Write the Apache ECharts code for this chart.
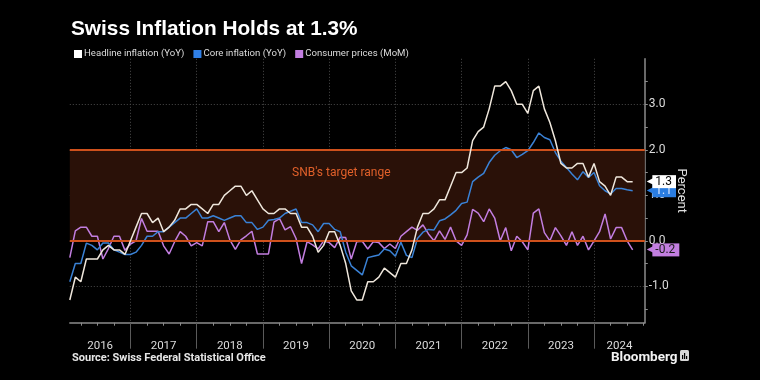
<!DOCTYPE html>
<html><head><meta charset="utf-8">
<script src="https://cdn.jsdelivr.net/npm/echarts@6/dist/echarts.min.js"></script>
<style>html,body{margin:0;background:#000}#c{width:760px;height:380px}</style>
</head><body><div id="c"></div>
<script>
// Month index 0 = Jan 2016 (plotted at month end)
const yearLabels = ['2016','2017','2018','2019','2020','2021','2022','2023','2024'];
const headline = [
  -1.3,-0.8,-0.9,-0.4,-0.4,-0.4,-0.2,-0.1,-0.2,-0.2,-0.3,0.0,
  0.3,0.6,0.6,0.4,0.5,0.2,0.3,0.45,0.7,0.7,0.8,0.8,
  0.7,0.6,0.8,0.8,1.0,1.1,1.2,1.2,1.0,1.1,0.9,0.7,
  0.6,0.6,0.7,0.7,0.6,0.6,0.3,0.3,0.1,-0.25,-0.1,0.2,
  0.2,-0.1,-0.5,-1.1,-1.3,-1.3,-0.9,-0.9,-0.8,-0.6,-0.7,-0.8,
  -0.5,-0.5,-0.2,0.3,0.6,0.6,0.7,0.9,0.9,1.2,1.5,1.5,
  1.6,2.2,2.4,2.5,2.9,3.4,3.4,3.5,3.3,3.0,3.0,2.8,
  3.3,3.4,2.9,2.6,2.2,1.7,1.6,1.6,1.7,1.7,1.4,1.7,
  1.3,1.2,1.0,1.4,1.4,1.3,1.3
];
const core = [
  -0.9,-0.5,-0.5,-0.05,-0.1,-0.2,-0.05,-0.05,-0.2,-0.25,-0.3,-0.3,
  -0.25,-0.1,0.1,0.1,0.2,0.2,0.3,0.4,0.5,0.5,0.6,0.7,
  0.5,0.5,0.55,0.5,0.45,0.5,0.55,0.55,0.4,0.4,0.25,0.3,
  0.45,0.47,0.5,0.6,0.65,0.7,0.4,0.4,0.35,0.2,0.38,0.38,
  0.25,0.2,-0.25,-0.55,-0.65,-0.75,-0.37,-0.34,-0.31,-0.18,-0.22,-0.34,
  -0.03,-0.32,-0.37,0.05,0.19,0.25,0.24,0.44,0.48,0.57,0.67,0.82,
  0.85,1.3,1.4,1.48,1.72,1.88,1.98,2.05,2.0,1.83,1.9,1.98,
  2.16,2.37,2.27,2.22,1.94,1.75,1.61,1.47,1.34,1.52,1.39,1.5,
  1.21,1.1,1.03,1.15,1.15,1.12,1.1
];
const mom = [
  -0.37,0.22,0.3,0.3,0.1,0.1,-0.4,-0.17,0.1,0.1,-0.21,-0.07,
  0.0,0.49,0.21,0.21,0.21,-0.11,-0.29,-0.02,0.2,0.1,-0.11,-0.04,
  -0.11,0.42,0.42,0.2,0.4,0.02,-0.19,0.02,0.11,0.21,-0.29,-0.29,
  -0.29,0.41,0.49,0.24,0.31,0.05,-0.5,-0.02,-0.09,-0.18,0.0,-0.04,
  -0.15,0.08,0.07,-0.4,-0.02,-0.01,-0.18,-0.02,-0.04,-0.17,-0.07,-0.17,
  0.1,0.2,0.3,0.23,0.35,0.15,0.0,0.22,0.03,0.3,0.0,-0.1,
  0.13,0.69,0.61,0.42,0.7,0.5,0.0,0.29,-0.22,0.1,-0.02,-0.2,
  0.61,0.7,0.18,0.0,0.29,0.11,-0.1,0.2,-0.1,0.1,-0.2,0.0,
  0.2,0.59,0.04,0.29,0.29,0.0,-0.2
];
const targetRange = [0, 2];
const yLabelValues = [-1, 0, 1, 2, 3];
const yTickValues = [-1.5, -1, -0.5, 0, 0.5, 1, 1.5, 2, 2.5, 3, 3.5];

const X_MAX = 104.2;
const Y_MIN = -1.8, Y_MAX = 4.0;
const toPts = arr => arr.map((v, i) => [i, v]);
const yearEnds = yearLabels.slice(0, -1).map((y, k) => k * 12 + 11);
const quarterEnds = [];
for (let i = 2; i <= X_MAX; i += 3) quarterEnds.push(i);
const labelPos = yearLabels.map((y, k) => {
  const a = k === 0 ? 0 : k * 12 - 1;
  const b = Math.min(k * 12 + 11, X_MAX);
  return (a + b) / 2;
});

const FONT = "'Roboto', 'Liberation Sans', sans-serif";
const C_HEAD = '#efe7dc', C_CORE = '#3a82d6', C_MOM = '#c27ee0';

function endLab(bg, fg, arrowColor) {
  return {
    show: true, distance: 14,
    formatter: p => '{a|\u25C0}{b|' + p.value[1].toFixed(1) + '}',
    rich: {
      a: { color: arrowColor, fontSize: 10, fontFamily: 'DejaVu Sans', padding: [0, -2, 0, 0] },
      b: { backgroundColor: bg, color: fg, fontSize: 12, fontFamily: FONT, padding: [1, 4, 0, 3], height: 12, lineHeight: 12 }
    }
  };
}

const chart = echarts.init(document.getElementById('c'), null, { renderer: 'canvas' });
chart.setOption({
  backgroundColor: '#000',
  animation: false,
  title: [
    { text: 'Swiss Inflation Holds at 1.3%', left: 71, top: 19, padding: 0,
      textStyle: { color: '#fff', fontWeight: 'bold', fontSize: 20.8, fontFamily: "'Liberation Sans', sans-serif" } },
    { text: 'Source: Swiss Federal Statistical Office', left: 72, top: 353, padding: 0,
      textStyle: { color: '#e6e6e6', fontWeight: 'bold', fontSize: 11, fontFamily: FONT } },
    { text: 'Bloomberg', left: 611, top: 351, padding: 0,
      textStyle: { color: '#f2f2f2', fontWeight: 'bold', fontSize: 13.5, fontFamily: FONT } }
  ],
  graphic: [
    { type: 'rect', left: 680, top: 350, shape: { width: 9, height: 11, r: 1.5 }, style: { fill: '#d8d8d8' } },
    { type: 'rect', left: 682, top: 355, shape: { width: 1.2, height: 4 }, style: { fill: '#000' } },
    { type: 'rect', left: 684, top: 353, shape: { width: 1.2, height: 6 }, style: { fill: '#000' } },
    { type: 'rect', left: 686, top: 356, shape: { width: 1.2, height: 3 }, style: { fill: '#000' } }
  ],
  legend: {
    data: ['Headline inflation (YoY)', 'Core inflation (YoY)', 'Consumer prices (MoM)'],
    left: 74, top: 49, padding: 0, icon: 'rect', itemWidth: 8, itemHeight: 8, itemGap: 9,
    textStyle: { color: '#dcdcdc', fontSize: 9.6, fontFamily: FONT, padding: [0, 0, 0, -3] }
  },
  grid: { left: 69.8, right: 115.2, top: 58.8, bottom: 57.3, outerBoundsMode: 'none' },
  xAxis: [
    { type: 'value', min: 0, max: X_MAX,
      axisLine: { show: true, onZero: false, lineStyle: { color: '#8c8c8c', width: 1.5 } },
      axisTick: { show: true, customValues: quarterEnds, length: 3, lineStyle: { color: '#8c8c8c' } },
      axisLabel: { show: false }, splitLine: { show: false } },
    { type: 'value', min: 0, max: X_MAX, position: 'bottom',
      axisLine: { show: false, onZero: false },
      axisTick: { show: true, customValues: yearEnds, length: 26, lineStyle: { color: '#5a5a5a' } },
      axisLabel: { show: true, customValues: labelPos, margin: 17, color: '#dcdcdc', fontSize: 11.5, fontFamily: FONT,
        formatter: v => { const k = labelPos.findIndex(p => Math.abs(p - v) < 1e-6); return k >= 0 ? yearLabels[k] : ''; } },
      splitLine: { show: true, lineStyle: { color: '#4a4a4a', width: 1, type: [1, 2] } } }
  ],
  yAxis: [
    { type: 'value', position: 'right', min: Y_MIN, max: Y_MAX,
      axisLine: { show: true, onZero: false, lineStyle: { color: '#8c8c8c', width: 1.5 } },
      axisTick: { show: true, customValues: yTickValues, length: 3, lineStyle: { color: '#8c8c8c' } },
      axisLabel: { customValues: yLabelValues, formatter: v => v.toFixed(1), color: '#dcdcdc', fontSize: 12, margin: 4, fontFamily: FONT },
      splitLine: { show: false },
      name: 'Percent', nameLocation: 'middle', nameRotate: -90, nameGap: 30, nameMoveOverlap: false,
      nameTextStyle: { color: '#e0e0e0', fontSize: 13, fontFamily: FONT } },
    { type: 'value', position: 'right', min: Y_MIN, max: Y_MAX,
      axisLine: { show: false }, axisTick: { show: false, customValues: yLabelValues },
      axisLabel: { show: false },
      splitLine: { show: true, lineStyle: { color: '#4a4a4a', width: 1, type: [1, 2] } } }
  ],
  series: [
    { name: 'target', type: 'line', data: [], z: 1, silent: true,
      markArea: { silent: true, itemStyle: { color: '#2a1108' },
        label: { show: true, position: 'insideTop', offset: [-16, 12], color: '#e0602a', fontSize: 12, fontFamily: FONT },
        data: [[{ yAxis: targetRange[0], name: "SNB's target range" }, { yAxis: targetRange[1] }]] },
      markLine: { silent: true, symbol: 'none', label: { show: false },
        lineStyle: { color: '#cf511c', width: 2, type: 'solid' },
        data: targetRange.map(v => ({ yAxis: v })) } },
    { name: 'Consumer prices (MoM)', type: 'line', data: toPts(mom), z: 3, symbol: 'none',
      color: C_MOM, lineStyle: { width: 1.5, color: C_MOM }, endLabel: endLab(C_MOM, '#1a1a1a', C_MOM) },
    { name: 'Core inflation (YoY)', type: 'line', data: toPts(core), z: 4, symbol: 'none',
      color: '#2f7fe6', lineStyle: { width: 1.5, color: C_CORE }, endLabel: endLab('#2a7de1', '#dbe9ff', '#2a7de1') },
    { name: 'Headline inflation (YoY)', type: 'line', data: toPts(headline), z: 5, symbol: 'none',
      color: '#ffffff', lineStyle: { width: 1.5, color: C_HEAD }, endLabel: endLab('#ffffff', '#000000', '#ffffff') }
  ]
});
</script></body></html>
